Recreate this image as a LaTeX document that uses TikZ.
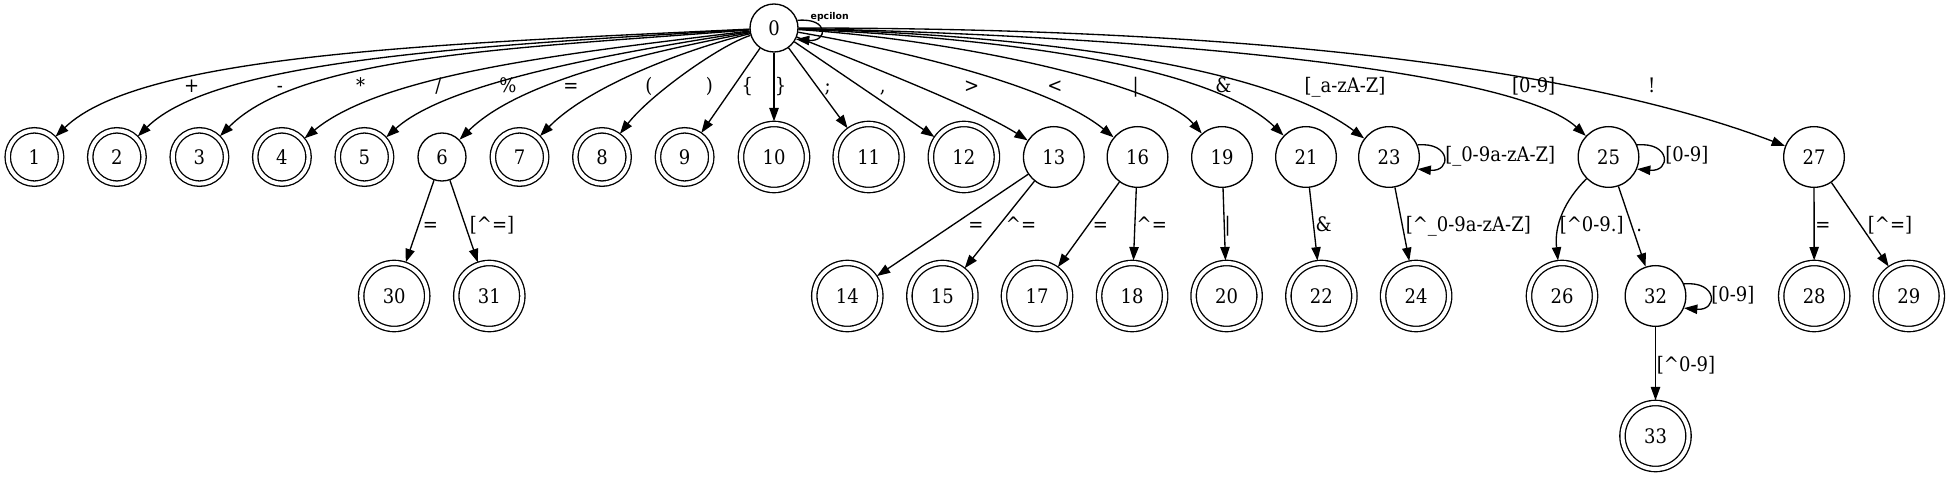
\documentclass[tikz,border=0pt]{standalone}
\usepackage{fontspec}
\setmainfont{DejaVu Serif}[FakeStretch=0.9]
\newfontfamily\loopfont{DejaVu Sans}
\usetikzlibrary{arrows.meta}
\begin{document}
\begin{tikzpicture}[x=0.75pt,y=-0.75pt,
  every node/.style={font=\fontsize{15pt}{18pt}\selectfont},
  st/.style={circle,draw,line width=1pt,inner sep=0pt,minimum size=36pt},
  st2/.style={st,minimum size=45.5pt},
  acc/.style={circle,draw,line width=1pt,inner sep=0pt,double,double distance=3pt,minimum size=40pt,outer sep=2pt},
  acc2/.style={acc,minimum size=49.5pt},
  arr/.style={line width=1pt,-{Triangle[length=10pt,width=7pt]}},
  lbl/.style={anchor=base,inner sep=0pt},
  llbl/.style={anchor=base west,inner sep=0pt},
]
\useasboundingbox (0,0) rectangle (1950,477);

% states
\node[st] (n0) at (774,28) {0};
\node[acc] (n1) at (34.4,157) {1};
\node[acc] (n2) at (116.9,157) {2};
\node[acc] (n3) at (199.4,157) {3};
\node[acc] (n4) at (281.9,157) {4};
\node[acc] (n5) at (364.4,157) {5};
\node[st] (n6) at (442,157) {6};
\node[acc] (n7) at (519.5,157) {7};
\node[acc] (n8) at (602,157) {8};
\node[acc] (n9) at (684.6,157) {9};
\node[acc2] (n10) at (774,157) {10};
\node[acc2] (n11) at (868.7,157) {11};
\node[acc2] (n12) at (963.9,157) {12};
\node[st2] (n13) at (1053.8,157) {13};
\node[st2] (n16) at (1137.5,157) {16};
\node[st2] (n19) at (1222,157) {19};
\node[st2] (n21) at (1306,157) {21};
\node[st2] (n23) at (1389,157) {23};
\node[st2] (n25) at (1608.5,157) {25};
\node[st2] (n27) at (1814,157) {27};

\node[acc2] (n30) at (394.2,296) {30};
\node[acc2] (n31) at (489.3,296) {31};
\node[acc2] (n14) at (847.3,296) {14};
\node[acc2] (n15) at (942.4,296) {15};
\node[acc2] (n17) at (1037,296) {17};
\node[acc2] (n18) at (1132.1,296) {18};
\node[acc2] (n20) at (1226.6,296) {20};
\node[acc2] (n22) at (1321.4,296) {22};
\node[acc2] (n24) at (1416.1,296) {24};
\node[acc2] (n26) at (1562,296) {26};
\node[st2] (n32) at (1655.5,296) {32};
\node[acc2] (n28) at (1814.2,296) {28};
\node[acc2] (n29) at (1908.8,296) {29};
\node[acc2] (n33) at (1655.5,436) {33};

% edges from 0
\draw[arr] (n0) .. controls (430,44) and (140,55) .. (n1);
\draw[arr] (n0) .. controls (470,46) and (215,60) .. (n2);
\draw[arr] (n0) .. controls (520,48) and (300,55) .. (n3);
\draw[arr] (n0) .. controls (580,52) and (385,72) .. (n4);
\draw[arr] (n0) .. controls (600,55) and (445,84) .. (n5);
\draw[arr] (n0) .. controls (650,52) and (520,80) .. (n6);
\draw[arr] (n0) .. controls (690,48) and (590,85) .. (n7);
\draw[arr] (n0) .. controls (720,45) and (650,95) .. (n8);
\draw[arr] (n0) -- (n9);
\draw[arr] (n0) -- (n10);
\draw[arr] (n0) -- (n11);
\draw[arr] (n0) -- (n12);
\draw[arr] (n0) .. controls (880,70) and (980,110) .. (n13);
\draw[arr] (n0) .. controls (900,50) and (1050,85) .. (n16);
\draw[arr] (n0) .. controls (960,40) and (1160,85) .. (n19);
\draw[arr] (n0) .. controls (1000,38) and (1210,65) .. (n21);
\draw[arr] (n0) .. controls (1050,36) and (1270,68) .. (n23);
\draw[arr] (n0) .. controls (1150,36) and (1515,70) .. (n25);
\draw[arr] (n0) .. controls (1250,28) and (1580,68) .. (n27);

% self loops
\draw[arr] (n0.18) .. controls +(32,-3) and +(32,3) .. (n0.333);
\draw[arr] (n23.23) .. controls +(34,-3) and +(34,3) .. (n23.337);
\draw[arr] (n25.23) .. controls +(34,-3) and +(34,3) .. (n25.337);
\draw[arr] (n32.23) .. controls +(34,-3) and +(34,3) .. (n32.337);

% lower edges
\draw[arr] (n6) -- (n30);
\draw[arr] (n6) -- (n31);
\draw[arr] (n13) -- (n14);
\draw[arr] (n13) -- (n15);
\draw[arr] (n16) -- (n17);
\draw[arr] (n16) -- (n18);
\draw[arr] (n19) -- (n20);
\draw[arr] (n21) -- (n22);
\draw[arr] (n23) -- (n24);
\draw[arr] (n25) .. controls (1565,200) and (1554,225) .. (n26);
\draw[arr] (n25) -- (n32);
\draw[arr] (n27) -- (n28);
\draw[arr] (n27) -- (n29);
\draw[arr] (n32) -- (n33);

% labels, upper tier
\node[lbl] (l1) at (191.7,92.5) {+};
\node[lbl] (l2) at (280,92.5) {-};
\node[lbl] (l3) at (360.7,92.5) {*};
\node[lbl] (l4) at (438.3,92.5) {/};
\node[lbl] (l5) at (507.9,92.5) {\%};
\node[lbl] (l6) at (570.9,92.5) {=};
\node[lbl] (l7) at (649,92.5) {(};
\node[lbl] (l8) at (709.3,92.5) {)};
\node[lbl] (l9) at (747.4,92.5) {\{};
\node[lbl] (l10) at (780.7,92.5) {\}};
\node[lbl] (l11) at (827.7,92.5) {;};
\node[lbl] (l12) at (882.7,92.5) {,};
\node[lbl] (l13) at (971.7,92.5) {>};
\node[lbl] (l16) at (1055,92.5) {<};
\node[lbl] (l19) at (1135.7,92.5) {|};
\node[lbl] (l21) at (1223.3,92.5) {\&};
\node[lbl] (l23) at (1345,92.5) {[\_a-zA-Z]};
\node[lbl] (l25) at (1533.7,92.5) {[0-9]};
\node[lbl] (l27) at (1651.6,92.5) {!};

% loop labels
\node[font={\fontsize{7pt}{8pt}\loopfont\bfseries}] (le0) at (829.7,16.7) {epcilon};
\node[llbl] (le23) at (1445,161.3) {[\_0-9a-zA-Z]};
\node[llbl] (le25) at (1665,161.3) {[0-9]};
\node[llbl] (le32) at (1711,301.3) {[0-9]};

% labels, lower tier
\node[lbl] (l30) at (430.4,231.3) {=};
\node[lbl] (l31) at (492,231.3) {[\textasciicircum=]};
\node[lbl] (l14) at (976,231.3) {=};
\node[lbl] (l15) at (1021,231.3) {\textasciicircum=};
\node[lbl] (l17) at (1100.4,231.3) {=};
\node[lbl] (l18) at (1151.8,231.3) {\textasciicircum=};
\node[lbl] (l20) at (1227.7,231.3) {|};
\node[lbl] (l22) at (1323.7,231.3) {\&};
\node[lbl] (l24) at (1468.3,231.3) {[\textasciicircum\_0-9a-zA-Z]};
\node[lbl] (l26) at (1591.7,231.3) {[\textasciicircum0-9.]};
\node[lbl] (l32) at (1639.3,231.3) {.};
\node[lbl] (l28) at (1823,231.3) {=};
\node[lbl] (l29) at (1890,231.3) {[\textasciicircum=]};
\node[lbl] (l33) at (1686,371.3) {[\textasciicircum0-9]};
\end{tikzpicture}
\end{document}
